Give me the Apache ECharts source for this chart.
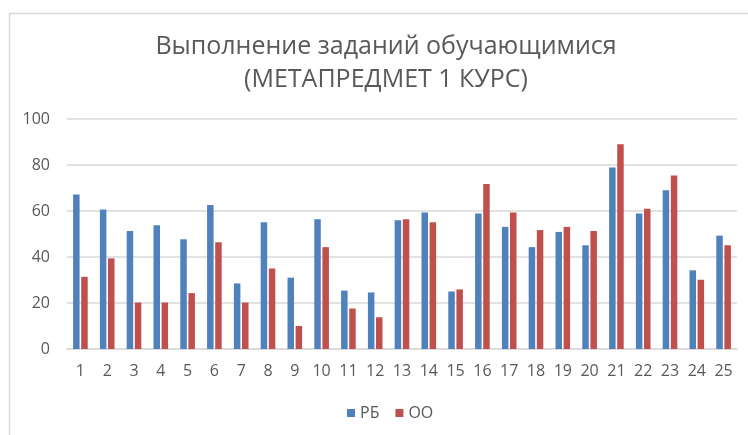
<!DOCTYPE html>
<html>
<head>
<meta charset="utf-8">
<script src="https://cdn.jsdelivr.net/npm/echarts@6/dist/echarts.min.js"></script>
<style>
html,body{margin:0;padding:0;background:#fff;}
#c{width:748px;height:435px;}
</style>
</head>
<body>
<div id="c"></div>
<script>
const categories = ['1','2','3','4','5','6','7','8','9','10','11','12','13','14','15','16','17','18','19','20','21','22','23','24','25'];
const seriesRB = [67.2,60.6,51.3,53.8,47.7,62.6,28.5,55.1,31.0,56.4,25.4,24.6,56.0,59.3,25.0,58.9,53.1,44.3,50.9,45.1,78.9,58.9,69.0,34.2,49.3];
const seriesOO = [31.4,39.4,20.2,20.2,24.3,46.4,20.2,35.0,10.0,44.3,17.6,13.8,56.4,55.1,25.9,71.7,59.3,51.7,53.1,51.3,89.0,61.0,75.4,30.1,45.1];
const yTicks = [0,20,40,60,80,100];

const font = "'Open Sans', 'Noto Sans', sans-serif";
const chart = echarts.init(document.getElementById('c'), null, {renderer:'canvas'});
chart.setOption({
  animation:false,
  backgroundColor:'#fff',
  graphic:[{
    type:'rect', left:7, top:11, silent:true,
    shape:{x:0,y:0,width:780,height:460},
    style:{fill:'none', stroke:'#D9D9D9', lineWidth:1.5}
  }],
  title:{
    text:'Выполнение заданий обучающимися\n(МЕТАПРЕДМЕТ 1 КУРС)',
    left:381, top:25, textAlign:'center',
    textStyle:{fontFamily:font, fontSize:25, fontWeight:'normal', color:'#595959', lineHeight:33}
  },
  legend:{
    data:['РБ','ОО'],
    left:342, top:400,
    itemWidth:8, itemHeight:8, itemGap:16,
    icon:'rect',
    textStyle:{fontFamily:font, fontSize:16, color:'#595959'}
  },
  grid:{left:67, right:11, top:119, bottom:86, containLabel:false},
  xAxis:{
    type:'category', data:categories,
    axisLine:{lineStyle:{color:'#D9D9D9', width:1.5}},
    axisTick:{show:false},
    axisLabel:{fontFamily:font, fontSize:16, color:'#595959', margin:14, interval:0}
  },
  yAxis:{
    type:'value', min:yTicks[0], max:yTicks[yTicks.length-1], interval:20,
    axisLine:{show:false}, axisTick:{show:false},
    axisLabel:{fontFamily:font, fontSize:16, color:'#595959', margin:17},
    splitLine:{lineStyle:{color:'#D9D9D9', width:1.5}}
  },
  series:[
    {name:'РБ', type:'bar', data:seriesRB, barWidth:6.5, barGap:'25%',
     itemStyle:{color:'#4F81BD'}},
    {name:'ОО', type:'bar', data:seriesOO, barWidth:6.5, barGap:'25%',
     itemStyle:{color:'#C0504D'}}
  ]
});
</script>
</body>
</html>
